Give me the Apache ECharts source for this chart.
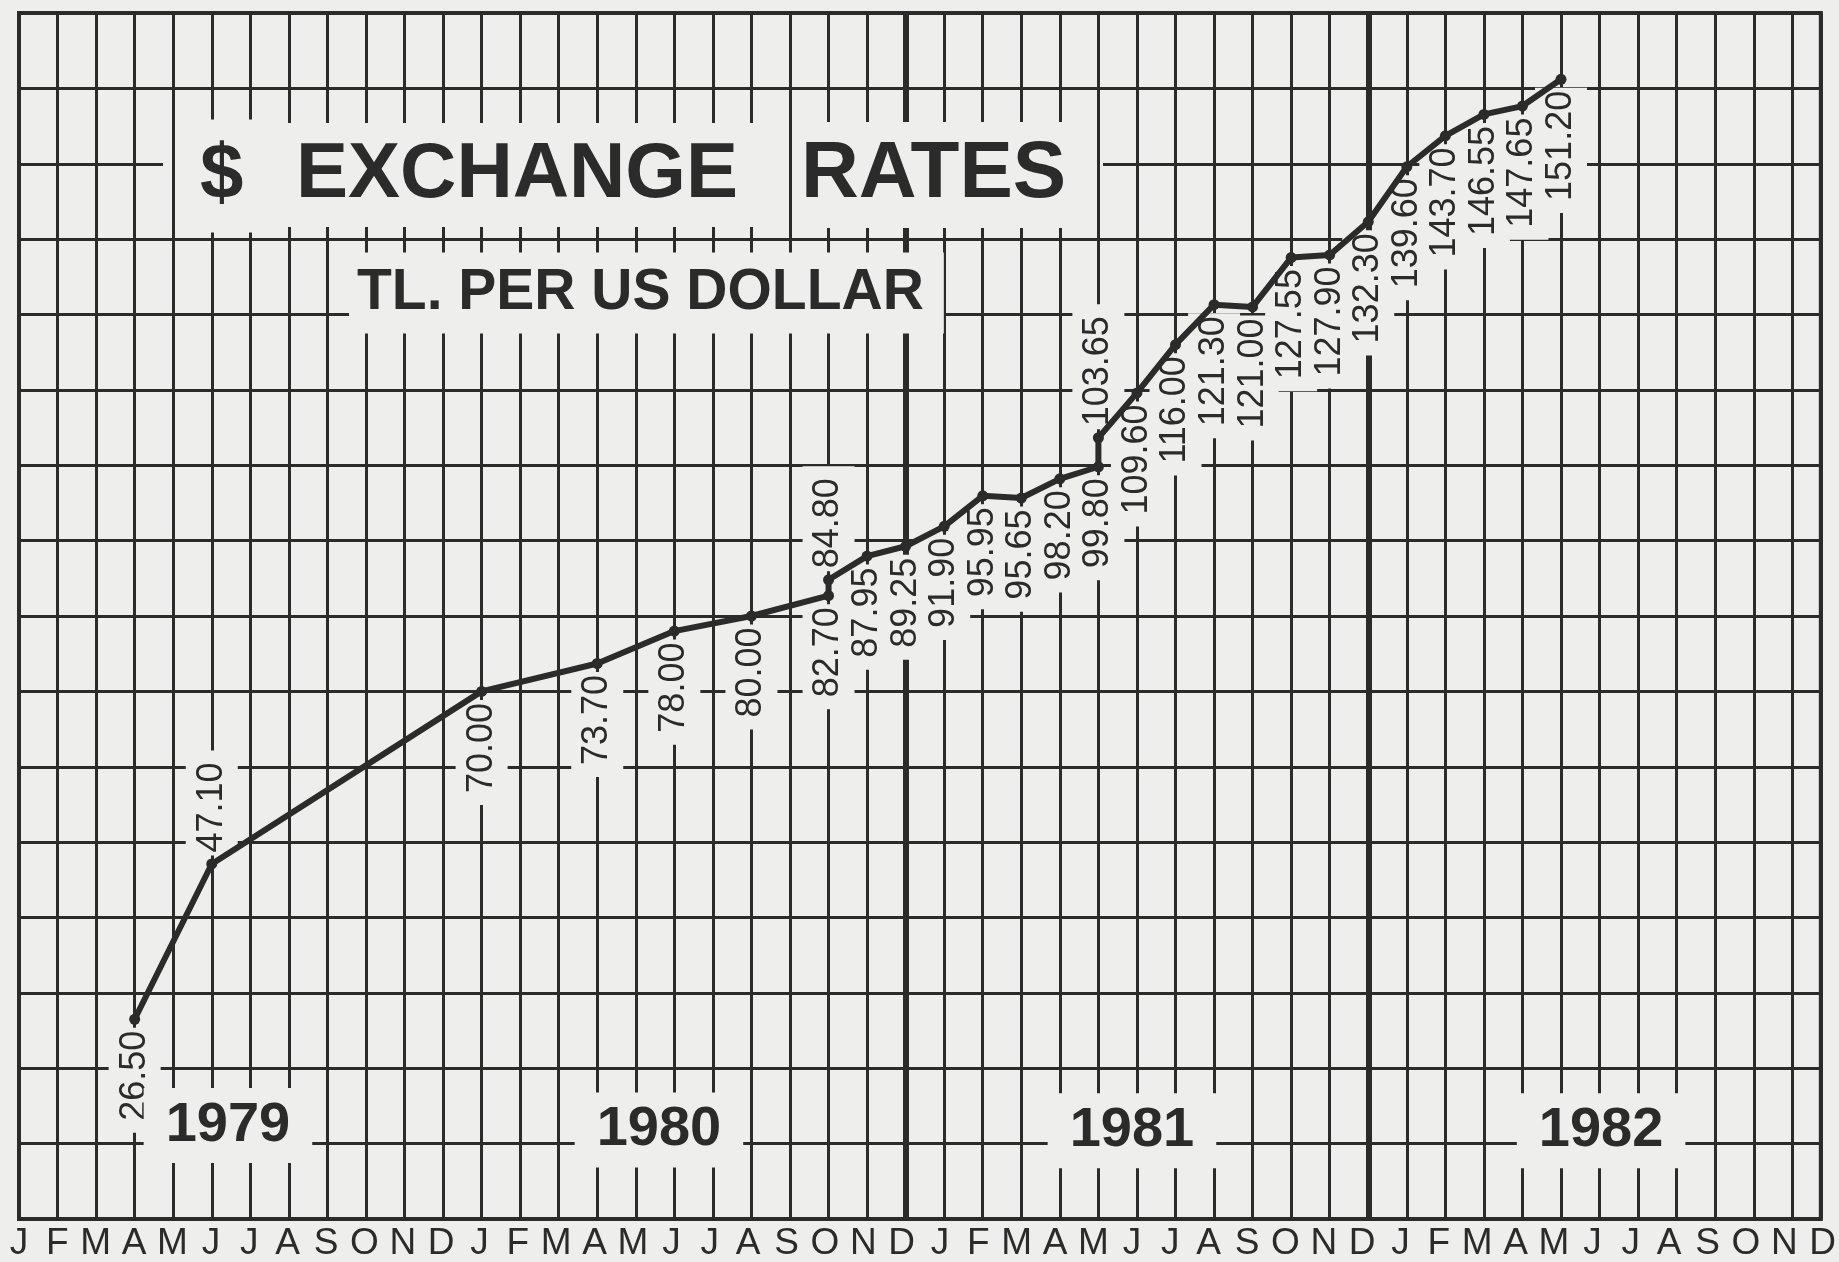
<!DOCTYPE html>
<html>
<head>
<meta charset="utf-8">
<script src="https://cdn.jsdelivr.net/npm/echarts@6/dist/echarts.min.js"></script>
<style>
  html, body { margin: 0; padding: 0; background: #eeeeec; }
  #chart { width: 1839px; height: 1262px; }
</style>
</head>
<body>
<div id="chart"></div>
<script>
// ---------------- data ----------------
const monthLabels = [
  'J','F','M','A','M','J','J','A','S','O','N','D',
  'J','F','M','A','M','J','J','A','S','O','N','D',
  'J','F','M','A','M','J','J','A','S','O','N','D',
  'J','F','M','A','M','J','J','A','S','O','N','D'
];
const yearLabels = ['1979', '1980', '1981', '1982'];
// month index (0 = Jan 1979) of each observation
const pointMonth = [3, 5, 12, 15, 17, 19, 21, 21, 22, 23, 24, 25, 26, 27, 28, 28,
                    29, 30, 31, 32, 33, 34, 35, 36, 37, 38, 39, 40];
// TL per US dollar
const rate = [26.50, 47.10, 70.00, 73.70, 78.00, 80.00, 82.70, 84.80, 87.95, 89.25,
              91.90, 95.95, 95.65, 98.20, 99.80, 103.65, 109.60, 116.00, 121.30, 121.00,
              127.55, 127.90, 132.30, 139.60, 143.70, 146.55, 147.65, 151.20];
const labelAbove = [1, 7, 15];   // observations whose value label is written above the dot

// ---------------- style / layout ----------------
const INK = '#2b2b2b';
const PAPER = '#eeeeec';
const SP = 38.55;                 // px per month
const LEFT = 19, TOP = 13, H = 1206;
const XMAX = 46.74;               // right border of the drawing
const yearPos = [[5.42, 12.4], [16.6, 11.8], [28.87, 11.7], [41.04, 11.7]];

const points = pointMonth.map((m, i) => [m, rate[i]]);

const labelData = points.map((p, i) => {
  const above = labelAbove.indexOf(i) >= 0;
  return {
    value: p,
    label: above
      ? { position: 'top', align: 'left', verticalAlign: 'middle', padding: [8, 12, 8, 3] }
      : { position: 'bottom', align: 'right', verticalAlign: 'middle', padding: [8, 3, 8, 12] }
  };
});

const yearData = yearLabels.map((y, k) => ({ value: yearPos[k], name: y }));

function word(text, x, y, size, pad) {
  return {
    type: 'text', z: 30, silent: true, x: x, y: y,
    style: {
      text: text, fill: INK,
      font: 'bold ' + size + 'px "Liberation Sans", Arial, sans-serif',
      align: 'left', verticalAlign: 'middle', textAlign: 'left', textVerticalAlign: 'middle',
      backgroundColor: PAPER, padding: pad
    }
  };
}

const hiddenItem = { color: 'rgba(0,0,0,0)', opacity: 1 };

const chart = echarts.init(document.getElementById('chart'), null, { renderer: 'canvas' });
chart.setOption({
  animation: false,
  backgroundColor: PAPER,
  grid: [
    { left: LEFT, top: TOP, width: XMAX * SP, height: H, show: true,
      borderColor: INK, borderWidth: 4, backgroundColor: 'transparent' },
    { left: LEFT, top: TOP, width: 47 * SP, height: H, show: false }
  ],
  xAxis: [
    { type: 'value', gridIndex: 0, min: 0, max: XMAX, interval: 1, z: 2,
      axisLine: { show: false }, axisTick: { show: false }, axisLabel: { show: false },
      splitLine: { show: true, lineStyle: { color: INK, width: 3 } } },
    { type: 'value', gridIndex: 1, min: 0, max: 47, interval: 1,
      axisLine: { show: false }, axisTick: { show: false }, splitLine: { show: false },
      axisLabel: { show: true, margin: 6, fontSize: 37, color: INK,
        fontFamily: '"Liberation Sans Narrow", "Liberation Sans", Arial, sans-serif',
        formatter: v => (monthLabels[Math.round(v)] || '') } }
  ],
  yAxis: [
    { type: 'value', gridIndex: 0, min: 0, max: 160, interval: 10, z: 0,
      axisLine: { show: false }, axisTick: { show: false }, axisLabel: { show: false },
      splitLine: { show: true, lineStyle: { color: INK, width: 3 } } },
    { type: 'value', gridIndex: 1, min: 0, max: 160, show: false }
  ],
  graphic: [
    // band that removes the horizontal rule behind the title words (vertical rules stay)
    { type: 'rect', z: 1, silent: true, shape: { x: 163, y: 156, width: 940, height: 14 },
      style: { fill: PAPER } },
    word('$', 181, 176, 78, [22, 15, 13, 19]),
    word('EXCHANGE', 282, 175, 78, [20, 20, 6, 14]),
    word('RATES', 798, 175, 80, [20, 22, 6, 3]),
    word('TL. PER US DOLLAR', 349, 293, 57, [10, 20, 14, 8])
  ],
  series: [
    { // thicker December rules
      type: 'line', xAxisIndex: 0, yAxisIndex: 0, data: [], z: 2,
      markLine: { silent: true, z: 2, symbol: 'none', label: { show: false },
        lineStyle: { color: INK, width: 6, type: 'solid' },
        data: [{ xAxis: 23 }, { xAxis: 35 }] }
    },
    { // value labels
      type: 'scatter', xAxisIndex: 0, yAxisIndex: 0, z: 3, silent: true,
      symbolSize: 1, itemStyle: hiddenItem,
      data: labelData,
      label: { show: true, rotate: 90, distance: 8, fontSize: 36, color: INK, opacity: 1,
        fontFamily: '"Liberation Sans", Arial, sans-serif',
        backgroundColor: PAPER,
        formatter: p => p.value[1].toFixed(2) }
    },
    { // year labels
      type: 'scatter', xAxisIndex: 0, yAxisIndex: 0, z: 3, silent: true,
      symbolSize: 1, itemStyle: hiddenItem,
      data: yearData,
      label: { show: true, position: 'inside', fontSize: 56, fontWeight: 'bold', color: INK, opacity: 1,
        fontFamily: '"Liberation Sans", Arial, sans-serif',
        backgroundColor: PAPER, padding: [15, 22, 4, 22],
        formatter: p => p.name }
    },
    { // exchange-rate line
      type: 'line', xAxisIndex: 0, yAxisIndex: 0, z: 4, silent: true,
      data: points,
      lineStyle: { color: INK, width: 6 },
      symbol: 'circle', symbolSize: 11,
      itemStyle: { color: INK },
      label: { show: false }
    }
  ]
});
</script>
</body>
</html>
